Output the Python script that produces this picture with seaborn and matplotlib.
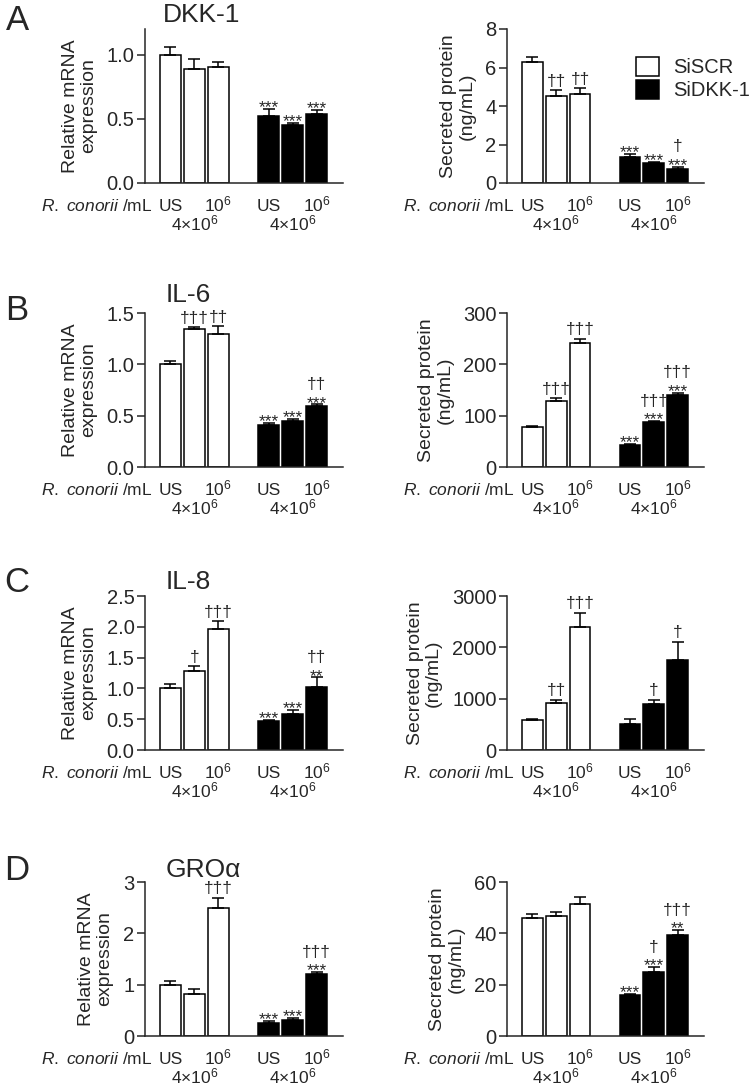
import numpy as np
import pandas as pd
import matplotlib
matplotlib.use("Agg")
import matplotlib.pyplot as plt
from matplotlib.patches import Patch
import seaborn as sns

# ---------------- data ----------------
groups = ["SiSCR", "SiSCR", "SiSCR", "SiDKK-1", "SiDKK-1", "SiDKK-1"]
conditions = ["US", "4x10^6", "10^6", "US", "4x10^6", "10^6"]

dkk1_mrna = [1.00, 0.89, 0.90, 0.52, 0.45, 0.54]
dkk1_mrna_sem = [0.06, 0.08, 0.04, 0.06, 0.02, 0.03]
dkk1_prot = [6.27, 4.50, 4.60, 1.37, 1.02, 0.73]
dkk1_prot_sem = [0.26, 0.33, 0.33, 0.13, 0.07, 0.12]

il6_mrna = [1.00, 1.34, 1.30, 0.41, 0.45, 0.59]
il6_mrna_sem = [0.03, 0.02, 0.07, 0.02, 0.02, 0.02]
il6_prot = [77, 128, 242, 43, 88, 141]
il6_prot_sem = [2, 6, 8, 2, 2, 4]

il8_mrna = [1.00, 1.29, 1.96, 0.47, 0.58, 1.03]
il8_mrna_sem = [0.07, 0.07, 0.13, 0.015, 0.065, 0.15]
il8_prot = [575, 908, 2405, 516, 895, 1745]
il8_prot_sem = [33, 72, 268, 92, 85, 360]

groa_mrna = [1.00, 0.82, 2.50, 0.26, 0.31, 1.21]
groa_mrna_sem = [0.07, 0.09, 0.19, 0.03, 0.04, 0.04]
groa_prot = [46.0, 46.7, 51.6, 15.9, 24.9, 39.5]
groa_prot_sem = [1.4, 1.6, 2.4, 0.5, 2.0, 1.7]

# significance marks
dkk1_mrna_stars = ["", "", "", "***", "***", "***"]
dkk1_mrna_dag = ["", "", "", "", "", ""]
dkk1_prot_stars = ["", "", "", "***", "***", "***"]
dkk1_prot_dag = ["", "††", "††", "", "", "†"]
il6_mrna_stars = ["", "", "", "***", "***", "***"]
il6_mrna_dag = ["", "†††", "††", "", "", "††"]
il6_prot_stars = ["", "", "", "***", "***", "***"]
il6_prot_dag = ["", "†††", "†††", "", "†††", "†††"]
il8_mrna_stars = ["", "", "", "***", "***", "**"]
il8_mrna_dag = ["", "†", "†††", "", "", "††"]
il8_prot_stars = ["", "", "", "", "", ""]
il8_prot_dag = ["", "††", "†††", "", "†", "†"]
groa_mrna_stars = ["", "", "", "***", "***", "***"]
groa_mrna_dag = ["", "", "†††", "", "", "†††"]
groa_prot_stars = ["", "", "", "***", "***", "**"]
groa_prot_dag = ["", "", "", "", "†", "†††"]

panel_letters = ["A", "B", "C", "D"]
titles = ["DKK-1", "IL-6", "IL-8", "GROα"]
mrna_ylims = [1.2, 1.5, 2.5, 3.0]
mrna_ticks = [[0.0, 0.5, 1.0], [0.0, 0.5, 1.0, 1.5], [0.0, 0.5, 1.0, 1.5, 2.0, 2.5], [0, 1, 2, 3]]
prot_ylims = [8, 300, 3000, 60]
prot_ticks = [[0, 2, 4, 6, 8], [0, 100, 200, 300], [0, 1000, 2000, 3000], [0, 20, 40, 60]]
xtick_labels = ["US", r"10$^{6}$", "US", r"10$^{6}$"]
mid_label = r"4×10$^{6}$"

# ---------------- style ----------------
sns.set_style("ticks")
plt.rcParams["font.family"] = ["Liberation Sans", "DejaVu Sans"]
plt.rcParams["mathtext.fontset"] = "custom"
plt.rcParams["mathtext.rm"] = "Liberation Sans"
plt.rcParams["mathtext.it"] = "Liberation Sans:italic"
plt.rcParams["mathtext.bf"] = "Liberation Sans:bold"

W, H = 753, 1089
fig = plt.figure(figsize=(W / 100, H / 100), dpi=100)

positions = [0, 1, 2, 4.1, 5.1, 6.1]
palette = {"SiSCR": "white", "SiDKK-1": "black"}
row_bottoms = [183, 467, 750, 1036]
ax_h = 154
left_x, left_w = 145, 198
right_x, right_w = 507, 197


def px_rect(x0, y_bottom, w, h):
    return [x0 / W, 1 - y_bottom / H, w / W, h / H]


def draw_panel(ax, vals, sems, stars, dags, ylim, ticks, ylabel, tick_fmt):
    df = pd.DataFrame({"pos": positions, "value": vals, "group": groups})
    sns.barplot(data=df, x="pos", y="value", hue="group", palette=palette,
                native_scale=True, dodge=False, width=0.875, errorbar=None,
                edgecolor="black", linewidth=1.1, legend=False, ax=ax)
    ax.errorbar(positions, vals, yerr=[np.zeros(len(vals)), sems], fmt="none",
                ecolor="black", elinewidth=1.1, capsize=4, capthick=1.1, zorder=1)
    ax.set_xlim(-1.06, 7.2)
    ax.set_ylim(0, ylim)
    ax.set_yticks(ticks)
    ax.set_yticklabels([tick_fmt(t) for t in ticks], fontsize=14.5)
    ax.set_xticks([])
    ax.tick_params(axis="y", length=6, width=1.1, pad=1.5, direction="out")
    for s in ["top", "right"]:
        ax.spines[s].set_visible(False)
    for s in ["left", "bottom"]:
        ax.spines[s].set_linewidth(1.1)
    ax.set_xlabel("")
    ax.set_ylabel(ylabel, fontsize=14, linespacing=1.1, labelpad=7)
    trans = matplotlib.transforms.blended_transform_factory(ax.transData, ax.transAxes)
    for p, lab in zip([0, 2, 4.1, 6.1], xtick_labels):
        ax.text(p, -28 / ax_h, lab, transform=trans, ha="center", va="baseline", fontsize=12.5)
    for p in [1, 5.1]:
        ax.text(p, -47 / ax_h, mid_label, transform=trans, ha="center", va="baseline", fontsize=12.5)
    ax.text(0.04, -28 / ax_h, r"$\it{R.\ conorii}$ /mL", transform=ax.transAxes,
            ha="right", va="baseline", fontsize=12.5)
    for p, v, e, st, dg in zip(positions, vals, sems, stars, dags):
        top = v + e
        if st:
            ax.annotate(st, (p, top), xytext=(0, -2.4), textcoords="offset points",
                        ha="center", va="baseline", fontsize=12.5)
            if dg:
                ax.annotate(dg, (p, top), xytext=(0, 11), textcoords="offset points",
                            ha="center", va="baseline", fontsize=12.5)
        elif dg:
            ax.annotate(dg, (p, top), xytext=(0, 3.2), textcoords="offset points",
                        ha="center", va="baseline", fontsize=12.5)


mrna_sets = [
    (dkk1_mrna, dkk1_mrna_sem, dkk1_mrna_stars, dkk1_mrna_dag),
    (il6_mrna, il6_mrna_sem, il6_mrna_stars, il6_mrna_dag),
    (il8_mrna, il8_mrna_sem, il8_mrna_stars, il8_mrna_dag),
    (groa_mrna, groa_mrna_sem, groa_mrna_stars, groa_mrna_dag),
]
prot_sets = [
    (dkk1_prot, dkk1_prot_sem, dkk1_prot_stars, dkk1_prot_dag),
    (il6_prot, il6_prot_sem, il6_prot_stars, il6_prot_dag),
    (il8_prot, il8_prot_sem, il8_prot_stars, il8_prot_dag),
    (groa_prot, groa_prot_sem, groa_prot_stars, groa_prot_dag),
]

title_centers = [(202, 15), (188, 295), (188, 582), (203, 870)]
letter_centers = [(17, 21), (17, 310), (17, 582), (17, 870)]

for i in range(4):
    yb = row_bottoms[i]
    axl = fig.add_axes(px_rect(left_x, yb, left_w, ax_h))
    v, s, st, dg = mrna_sets[i]
    if i in (0, 1, 2):
        fmt = lambda t: f"{t:.1f}"
    else:
        fmt = lambda t: f"{t:.0f}"
    draw_panel(axl, v, s, st, dg, mrna_ylims[i], mrna_ticks[i],
               "Relative mRNA\nexpression", fmt)
    axr = fig.add_axes(px_rect(right_x, yb, right_w, ax_h))
    v, s, st, dg = prot_sets[i]
    draw_panel(axr, v, s, st, dg, prot_ylims[i], prot_ticks[i],
               "Secreted protein\n(ng/mL)", lambda t: f"{t:.0f}")
    tx, ty = title_centers[i]
    fig.text(tx / W, 1 - ty / H, titles[i], fontsize=19, ha="center", va="center")
    lx, ly = letter_centers[i]
    fig.text(lx / W, 1 - ly / H, panel_letters[i], fontsize=25, ha="center", va="center")
    if i == 0:
        handles = [Patch(facecolor=palette[g], edgecolor="black", linewidth=1.1)
                   for g in ["SiSCR", "SiDKK-1"]]
        fig.legend(handles, ["SiSCR", "SiDKK-1"], loc="upper left",
                   bbox_to_anchor=(636 / W, 1 - 57 / H), frameon=False, fontsize=14.5,
                   handlelength=1.15, handleheight=1.05, handletextpad=0.7,
                   labelspacing=0.15, borderpad=0, borderaxespad=0)

fig.savefig("out.png", dpi=100)
